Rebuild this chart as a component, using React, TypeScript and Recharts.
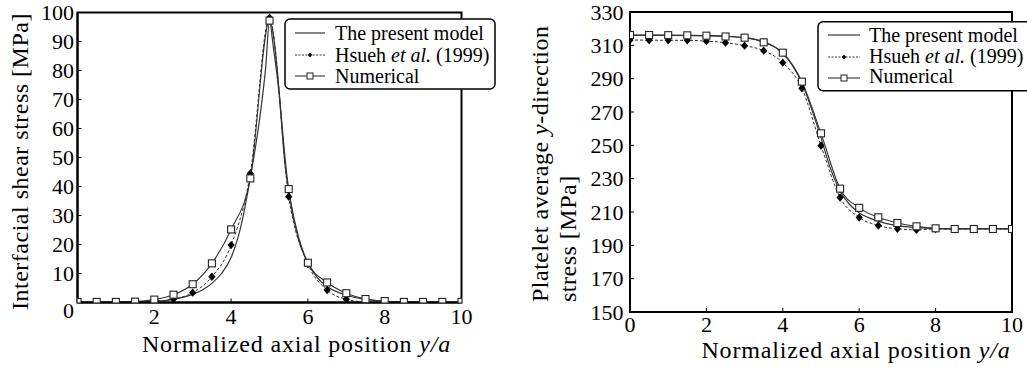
import React from 'react';
import { LineChart, Line, XAxis, YAxis, ReferenceArea } from 'recharts';

// ---------- data ----------
const positions = [0, 0.5, 1, 1.5, 2, 2.5, 3, 3.5, 4, 4.5, 5, 5.5, 6, 6.5, 7, 7.5, 8, 8.5, 9, 9.5, 10];

// Left panel: interfacial shear stress [MPa]
const shearNumerical = [0.2, 0.2, 0.2, 0.3, 1.0, 2.7, 6.3, 13.5, 25.2, 42.8, 97.2, 39.1, 13.7, 6.9, 3.2, 1.2, 0.5, 0.2, 0.2, 0.2, 0.2];
const shearHsueh = [0, 0, 0, 0.1, 0.4, 1.2, 3.4, 8.9, 19.8, 44.5, 98.2, 36.5, 13.3, 4.3, 1.1, 0.2, 0, 0, 0, 0, 0];
const shearModelX = [0, 1, 1.5, 2, 2.5, 3, 3.25, 3.5, 3.75, 4, 4.25, 4.5, 4.75, 4.9, 5, 5.1, 5.25, 5.4, 5.5, 5.75, 6, 6.25, 6.5, 7, 7.5, 8, 8.5, 9, 10];
const shearModelY = [0, 0, 0.1, 0.4, 1.1, 2.8, 4.3, 6.6, 10, 15.5, 26, 43, 64, 81, 97, 88, 72, 48, 38, 22, 13.5, 8.5, 5.5, 2.5, 1.1, 0.4, 0.15, 0, 0];

// Right panel: platelet average y-direction stress [MPa]
const stressNumerical = [316.2, 316.2, 316.1, 316, 315.8, 315.3, 314.6, 311.8, 305.6, 288.2, 257.2, 224, 212.5, 206.8, 203.4, 201.4, 200.2, 199.8, 199.8, 199.8, 199.8];
const stressHsueh = [313.2, 313.1, 313, 313, 312.5, 311.6, 309.8, 306.8, 299.6, 284.2, 249.8, 218.7, 206.7, 201.9, 199.9, 199.3, 199.8, 199.8, 199.8, 199.8, 199.8];
const stressModelX = [0, 1, 2, 2.5, 3, 3.5, 3.75, 4, 4.25, 4.5, 4.75, 5, 5.25, 5.5, 5.75, 6, 6.5, 7, 7.5, 8, 9, 10];
const stressModelY = [316, 316, 315.8, 315.5, 314.6, 312.2, 309.6, 305, 298, 287.5, 272, 254.5, 236, 222.5, 214.5, 209.5, 204.5, 201.8, 200.6, 200.1, 200, 200];

const xTicks = [0, 2, 4, 6, 8, 10];
const shearTicks = [0, 10, 20, 30, 40, 50, 60, 70, 80, 90, 100];
const stressTicks = [150, 170, 190, 210, 230, 250, 270, 290, 310, 330];

const seriesNames = ['The present model', 'Hsueh et al. (1999)', 'Numerical'];
const xTitle = 'Normalized axial position ';
const leftYTitle = 'Interfacial shear stress [MPa]';
const rightYTitle1 = 'Platelet average ';
const rightYTitle2 = 'stress [MPa]';

// ---------- helpers ----------
const FONT = 'Liberation Serif';
const toPoints = (xs: number[], ys: number[]) => xs.map((x, i) => ({ x, y: ys[i] }));

const SquareDot = (p: any) => {
  if (p.cx == null || p.cy == null) return <g key={`sq-${p.index}`} />;
  return (
    <rect key={`sq-${p.index}`} x={p.cx - 3.5} y={p.cy - 3.5} width={7} height={7}
      fill="#fff" stroke="#222" strokeWidth={1.1} />
  );
};
const DiamondDot = (p: any) => {
  if (p.cx == null || p.cy == null) return <g key={`dm-${p.index}`} />;
  const { cx, cy } = p;
  return (
    <polygon key={`dm-${p.index}`}
      points={`${cx},${cy - 4.2} ${cx + 3.6},${cy} ${cx},${cy + 4.2} ${cx - 3.6},${cy}`}
      fill="#000" />
  );
};

const tickStyle = { fontFamily: FONT, fontSize: 22, fill: '#000' };

type PanelProps = {
  width: number; height: number;
  margin: { top: number; right: number; bottom: number; left: number };
  yAxisWidth: number; xAxisHeight: number;
  yDomain: [number, number]; yTicks: number[];
  numerical: number[]; hsueh: number[]; modelX: number[]; modelY: number[];
  xTickMargin: number; yTickMargin: number;
  hideX0?: boolean; lowerY0?: boolean;
};

function Panel(props: PanelProps) {
  const numData = toPoints(positions, props.numerical);
  const hsData = toPoints(positions, props.hsueh);
  const modelData = toPoints(props.modelX, props.modelY);

  const yTick = (p: any) => {
    const v = p.payload.value;
    const extra = props.lowerY0 && v === props.yDomain[0] ? 8 : 0;
    return (
      <text x={p.x} y={p.y + extra} dy="0.355em" textAnchor="end" fontFamily={FONT} fontSize={22} fill="#000">{v}</text>
    );
  };

  return (
    <LineChart width={props.width} height={props.height} margin={props.margin}>
      <ReferenceArea x1={0} x2={10} y1={props.yDomain[0]} y2={props.yDomain[1]}
        fill="none" stroke="#000" strokeWidth={2} ifOverflow="visible" />
      <XAxis dataKey="x" type="number" domain={[0, 10]} ticks={xTicks} interval={0}
        height={props.xAxisHeight} tickSize={-4} tickMargin={props.xTickMargin}
        tickFormatter={(v: number) => (props.hideX0 && v === 0 ? '' : String(v))}
        axisLine={{ stroke: '#000', strokeWidth: 2 }} tickLine={{ stroke: '#000', strokeWidth: 1 }}
        tick={tickStyle} allowDataOverflow />
      <YAxis dataKey="y" type="number" domain={props.yDomain} ticks={props.yTicks} interval={0}
        width={props.yAxisWidth} tickSize={-4} tickMargin={props.yTickMargin}
        axisLine={{ stroke: '#000', strokeWidth: 2 }} tickLine={{ stroke: '#000', strokeWidth: 1 }}
        tick={yTick} allowDataOverflow />
      <Line data={modelData} dataKey="y" type="monotone" stroke="#333" strokeWidth={1.2}
        dot={false} isAnimationActive={false} name={seriesNames[0]} />
      <Line data={hsData} dataKey="y" type="monotone" stroke="#333" strokeWidth={1}
        strokeDasharray="3 2" dot={DiamondDot} activeDot={false} isAnimationActive={false} name={seriesNames[1]} />
      <Line data={numData} dataKey="y" type="monotone" stroke="#333" strokeWidth={1.1}
        dot={SquareDot} activeDot={false} isAnimationActive={false} name={seriesNames[2]} />
    </LineChart>
  );
}

function LegendBox({ x, y, w, h, rowY, baseY, lineX1, lineX2, textX }:
  { x: number; y: number; w: number; h: number; rowY: number[]; baseY: number[]; lineX1: number; lineX2: number; textX: number }) {
  const mid = (lineX1 + lineX2) / 2;
  return (
    <g>
      <rect x={x} y={y} width={w} height={h} rx={5} ry={5} fill="#fff" stroke="#000" strokeWidth={1.5} />
      <line x1={lineX1} x2={lineX2} y1={rowY[0]} y2={rowY[0]} stroke="#333" strokeWidth={1.2} />
      <line x1={lineX1} x2={lineX2} y1={rowY[1]} y2={rowY[1]} stroke="#333" strokeWidth={1} strokeDasharray="2 1.5" />
      <polygon points={`${mid},${rowY[1] - 2.5} ${mid + 2.2},${rowY[1]} ${mid},${rowY[1] + 2.5} ${mid - 2.2},${rowY[1]}`} fill="#000" />
      <line x1={lineX1} x2={lineX2} y1={rowY[2]} y2={rowY[2]} stroke="#333" strokeWidth={1.1} />
      <rect x={mid - 3} y={rowY[2] - 3} width={6} height={6} fill="#fff" stroke="#222" strokeWidth={1} />
      <text x={textX} y={baseY[0]} fontFamily={FONT} fontSize={20}>{seriesNames[0]}</text>
      <text x={textX} y={baseY[1]} fontFamily={FONT} fontSize={20}>
        Hsueh <tspan fontStyle="italic">et al.</tspan> (1999)
      </text>
      <text x={textX} y={baseY[2]} fontFamily={FONT} fontSize={20}>{seriesNames[2]}</text>
    </g>
  );
}

export default function App() {
  return (
    <div style={{ position: 'absolute', left: 0, top: 0, width: 1027, height: 367, overflow: 'hidden', background: '#fff' }}>
      <div style={{ position: 'absolute', left: 0, top: 0 }}>
        <Panel width={520} height={367} margin={{ top: 12.5, right: 58.5, bottom: 0, left: 0 }}
          yAxisWidth={77.5} xAxisHeight={64.5} yDomain={[0, 100]} yTicks={shearTicks}
          numerical={shearNumerical} hsueh={shearHsueh} modelX={shearModelX} modelY={shearModelY}
          xTickMargin={10} yTickMargin={7.5} hideX0 lowerY0 />
      </div>
      <div style={{ position: 'absolute', left: 520, top: 0 }}>
        <Panel width={507} height={367} margin={{ top: 12, right: 15, bottom: 0, left: 0 }}
          yAxisWidth={110} xAxisHeight={55} yDomain={[150, 330]} yTicks={stressTicks}
          numerical={stressNumerical} hsueh={stressHsueh} modelX={stressModelX} modelY={stressModelY}
          xTickMargin={8} yTickMargin={10.5} />
      </div>
      <svg width={1027} height={367} style={{ position: 'absolute', left: 0, top: 0, pointerEvents: 'none' }}>
        <LegendBox x={285} y={19} w={210} h={70} rowY={[33, 55, 76]} baseY={[40, 61.7, 82.7]}
          lineX1={295} lineX2={325} textX={335} />
        <LegendBox x={818} y={21.7} w={230} h={69} rowY={[35, 57, 78]} baseY={[41.7, 63.3, 83.3]}
          lineX1={828} lineX2={860} textX={869} />
        <text x={296.5} y={352} textAnchor="middle" fontFamily={FONT} fontSize={24} letterSpacing={0.85}>
          {xTitle}<tspan fontStyle="italic">y/a</tspan>
        </text>
        <text x={856} y={358} textAnchor="middle" fontFamily={FONT} fontSize={24} letterSpacing={0.85}>
          {xTitle}<tspan fontStyle="italic">y/a</tspan>
        </text>
        <text transform="translate(28,161.5) rotate(-90)" textAnchor="middle" fontFamily={FONT} fontSize={24} letterSpacing={0.5}>
          {leftYTitle}
        </text>
        <text transform="translate(548,302) rotate(-90)" textAnchor="start" fontFamily={FONT} fontSize={24} letterSpacing={0.5}>
          {rightYTitle1}<tspan fontStyle="italic">y</tspan>-direction
        </text>
        <text transform="translate(576,302) rotate(-90)" textAnchor="start" fontFamily={FONT} fontSize={24} letterSpacing={0.5}>
          {rightYTitle2}
        </text>
      </svg>
    </div>
  );
}
